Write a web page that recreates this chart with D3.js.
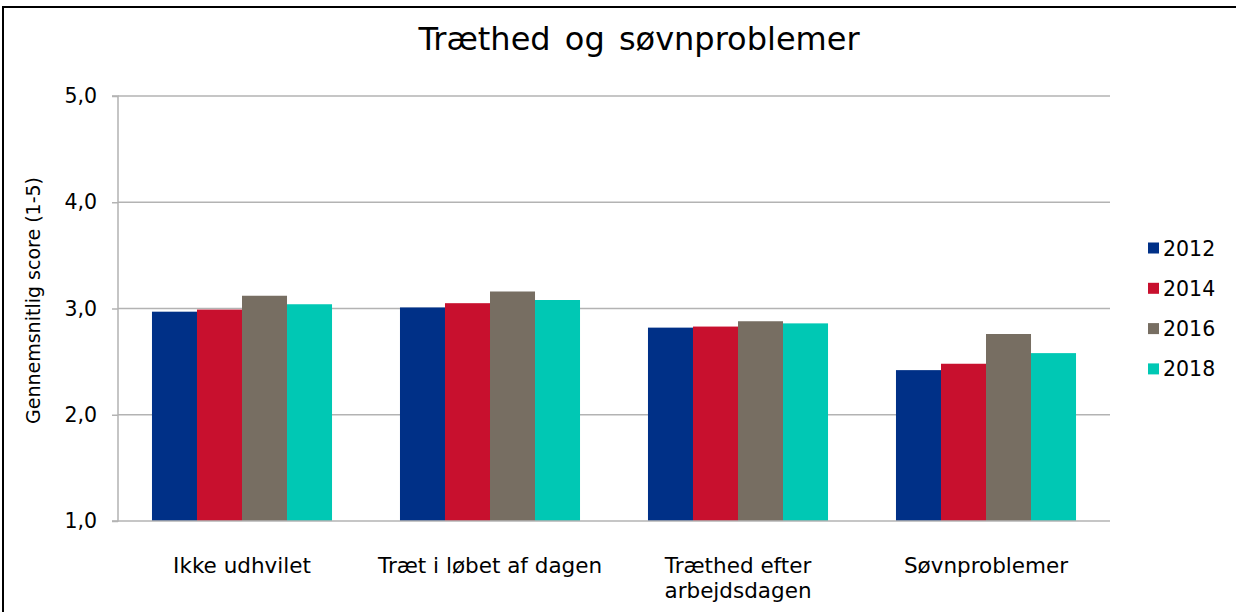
<!DOCTYPE html>
<html>
<head>
<meta charset="utf-8">
<script src="https://cdn.jsdelivr.net/npm/d3@7"></script>
<style>
  html, body { margin: 0; padding: 0; background: #fff; }
  svg { display: block; font-family: Verdana, "DejaVu Sans", sans-serif; }
</style>
</head>
<body>
<svg id="chart" width="1236" height="612"></svg>
<script>
const categories = ["Ikke udhvilet", "Træt i løbet af dagen", "Træthed efter arbejdsdagen", "Søvnproblemer"];
const categoryLines = [["Ikke udhvilet"], ["Træt i løbet af dagen"], ["Træthed efter", "arbejdsdagen"], ["Søvnproblemer"]];
const seriesNames = ["2012", "2014", "2016", "2018"];
const values2012 = [2.97, 3.01, 2.82, 2.42];
const values2014 = [2.99, 3.05, 2.83, 2.48];
const values2016 = [3.12, 3.16, 2.88, 2.76];
const values2018 = [3.04, 3.08, 2.86, 2.58];
const colors = ["#003087", "#C8102E", "#776E62", "#00C8B4"];
const yTicks = [1, 2, 3, 4, 5];
const title = "Træthed og søvnproblemer";
const yTitle = "Gennemsnitlig score (1-5)";

const allValues = [values2012, values2014, values2016, values2018];

const svg = d3.select("#chart");
const W = 1236, H = 612;
const plot = { left: 118, right: 1110, top: 96, bottom: 521 };

// frame
svg.append("rect").attr("x", 3).attr("y", 7).attr("width", W + 10).attr("height", H + 10)
  .attr("fill", "none").attr("stroke", "#000").attr("stroke-width", 2);

// title
svg.append("text").attr("x", 639).attr("y", 50).attr("text-anchor", "middle")
  .attr("font-size", 32).attr("fill", "#000").attr("word-spacing", 4).text(title);

const x0 = d3.scaleBand().domain(categories).range([plot.left, plot.right])
  .paddingInner(0.274).paddingOuter(0.137);
const x1 = d3.scaleBand().domain(seriesNames).range([0, x0.bandwidth()]).padding(0);
const y = d3.scaleLinear().domain([1, 5]).range([plot.bottom, plot.top]);

// gridlines
svg.append("g").selectAll("line").data(yTicks.filter(t => t > 1)).join("line")
  .attr("x1", plot.left).attr("x2", plot.right)
  .attr("y1", d => y(d)).attr("y2", d => y(d))
  .attr("stroke", "#b3b3b3").attr("stroke-width", 1.5);

// bars
const groups = svg.append("g").selectAll("g").data(categories).join("g")
  .attr("transform", d => `translate(${x0(d)},0)`);
groups.selectAll("rect").data((c, i) => seriesNames.map((s, j) => ({ s, v: allValues[j][i], j })))
  .join("rect")
  .attr("x", d => x1(d.s)).attr("width", x1.bandwidth())
  .attr("y", d => y(d.v)).attr("height", d => y(1) - y(d.v))
  .attr("fill", d => colors[d.j]);

// y axis
const yAxis = d3.axisLeft(y).tickValues(yTicks).tickSize(6).tickPadding(15)
  .tickFormat(d => d3.format(".1f")(d).replace(".", ","));
const ga = svg.append("g").attr("transform", `translate(${plot.left},0)`).call(yAxis);
ga.select(".domain").attr("stroke", "#b3b3b3").attr("stroke-width", 1.5).attr("d", `M-6,${plot.top}H0V${plot.bottom}H-6`);
ga.selectAll(".tick line").attr("stroke", "#b3b3b3").attr("stroke-width", 1.5);
ga.selectAll(".tick text").attr("font-size", 20.5).attr("fill", "#000")
  .attr("font-family", 'Verdana, "DejaVu Sans", sans-serif');

// x baseline
svg.append("line").attr("x1", plot.left).attr("x2", plot.right)
  .attr("y1", y(1)).attr("y2", y(1)).attr("stroke", "#b3b3b3").attr("stroke-width", 1.5);

// category labels
const cl = svg.append("g").selectAll("text").data(categories).join("text")
  .attr("text-anchor", "middle").attr("font-size", 21.5).attr("fill", "#000")
  .attr("x", d => x0(d) + x0.bandwidth() / 2).attr("y", 573);
cl.each(function(d, i) {
  d3.select(this).selectAll("tspan").data(categoryLines[i]).join("tspan")
    .attr("x", x0(d) + x0.bandwidth() / 2).attr("dy", (t, k) => k === 0 ? 0 : 25).text(t => t);
});

// y title
svg.append("text").attr("transform", `translate(40,${(plot.top + plot.bottom) / 2 - 8}) rotate(-90)`)
  .attr("text-anchor", "middle").attr("font-size", 19).attr("fill", "#000").text(yTitle);

// legend
const lg = svg.append("g").selectAll("g").data(seriesNames).join("g")
  .attr("transform", (d, i) => `translate(1148,${248 + i * 40.3})`);
lg.append("rect").attr("x", 0).attr("y", -5.5).attr("width", 11).attr("height", 11)
  .attr("fill", (d, i) => colors[i]);
lg.append("text").attr("x", 15).attr("y", 7.5).attr("font-size", 20.5).attr("fill", "#000").text(d => d);
</script>
</body>
</html>
